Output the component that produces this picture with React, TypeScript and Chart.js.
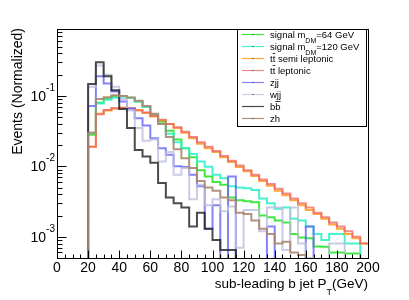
import React, { useEffect, useRef } from 'react';
import { Chart, registerables } from 'chart.js';

Chart.register(...registerables);

const FONT = '"Liberation Sans", Arial, Helvetica, sans-serif';

// Bin low edges (GeV), 5 GeV bins, last bin ends at 200
const binStarts = [20, 25, 30, 35, 40, 45, 50, 55, 60, 65, 70, 75, 80, 85, 90, 95, 100, 105, 110, 115, 120, 125, 130, 135, 140, 145, 150, 155, 160, 165, 170, 175, 180, 185, 190, 195];
const xEnd = 200;

const sig64 = [0.028, 0.080, 0.092, 0.099, 0.100, 0.094, 0.083, 0.070, 0.055, 0.043, 0.032, 0.024, 0.018, 0.0135, 0.0088, 0.0072, 0.0060, 0.0055, 0.0036, 0.0033, 0.0032, 0.0031, 0.0020, 0.0019, 0.0017, 0.0016, 0.0011, 0.00098, 0.00095, 0.00073, 0.00072, 0.0006, 0.0006, 0.00058, 0.00058, 0];
const sig120 = [0.030, 0.078, 0.088, 0.094, 0.097, 0.093, 0.083, 0.070, 0.053, 0.040, 0.029, 0.022, 0.018, 0.015, 0.0117, 0.0099, 0.0076, 0.0068, 0.0052, 0.0050, 0.0049, 0.0046, 0.0035, 0.0030, 0.0025, 0.0026, 0.0018, 0.0017, 0.0014, 0.0011, 0.0009, 0.0011, 0.0011, 0.0008, 0.0008, 0];
const ttSemi = [0.019, 0.056, 0.062, 0.066, 0.068, 0.067, 0.063, 0.057, 0.051, 0.045, 0.040, 0.035, 0.030, 0.025, 0.021, 0.018, 0.016, 0.0135, 0.0115, 0.0098, 0.0085, 0.0073, 0.0062, 0.0053, 0.0045, 0.0039, 0.0033, 0.0028, 0.0024, 0.0021, 0.0018, 0.0015, 0.0013, 0.0011, 0.00095, 0.0008];
const ttLep = [0.019, 0.055, 0.063, 0.067, 0.068, 0.066, 0.062, 0.058, 0.052, 0.046, 0.040, 0.036, 0.031, 0.026, 0.022, 0.019, 0.0165, 0.014, 0.012, 0.0103, 0.0088, 0.0076, 0.0065, 0.0056, 0.0048, 0.0041, 0.0035, 0.0030, 0.0026, 0.0022, 0.0019, 0.0016, 0.0014, 0.0012, 0.0010, 0.0008];
const zjj = [0.072, 0.19, 0.15, 0.115, 0.083, 0.066, 0.048, 0.038, 0.025, 0.018, 0.0146, 0.010, 0.0098, 0.0076, 0.0052, 0.0013, 0.0028, 0, 0.0072, 0, 0, 0, 0, 0.0014, 0, 0, 0, 0, 0.0014, 0, 0, 0, 0, 0, 0, 0];
const wjj = [0.135, 0.27, 0.20, 0.135, 0.09, 0.062, 0.035, 0.023, 0.024, 0.0117, 0.016, 0.0076, 0.0095, 0.0034, 0.0055, 0.0028, 0.0034, 0.0023, 0.0027, 0.0007, 0.0024, 0.0024, 0.0012, 0.0026, 0.0026, 0.00065, 0.0026, 0.0008, 0.0005, 0, 0, 0.0008, 0.0008, 0, 0, 0];
const bb = [0.147, 0.30, 0.19, 0.12, 0.065, 0.035, 0.017, 0.0138, 0.0112, 0.0058, 0.0036, 0.0030, 0.0026, 0.0014, 0.0022, 0.0013, 0.0009, 0.00065, 0.00065, 0, 0, 0, 0, 0, 0, 0, 0, 0, 0, 0, 0, 0, 0, 0, 0, 0];
const zh = [0.030, 0.090, 0.096, 0.102, 0.100, 0.095, 0.085, 0.072, 0.056, 0.040, 0.026, 0.0175, 0.013, 0.0095, 0.0062, 0.0050, 0.0045, 0.0036, 0.0033, 0.0022, 0.0021, 0.0017, 0.0013, 0.0011, 0.0008, 0.00085, 0.0006, 0.00055, 0, 0, 0, 0, 0, 0, 0, 0];

const seriesValues = [sig64, sig120, ttSemi, ttLep, zjj, wjj, bb, zh];
const seriesColors = [
  'rgba(45,228,45,0.9)',
  'rgba(50,242,200,0.9)',
  'rgba(255,160,40,0.9)',
  'rgba(236,100,100,0.75)',
  'rgba(100,100,245,0.8)',
  'rgba(190,190,220,0.8)',
  'rgba(30,30,30,0.8)',
  'rgba(170,135,115,0.9)',
];
type Part = { t: string; sub?: boolean; bar?: boolean };
const legendLabels: Part[][] = [
  [{ t: 'signal m' }, { t: 'DM', sub: true }, { t: '=64 GeV' }],
  [{ t: 'signal m' }, { t: 'DM', sub: true }, { t: '=120 GeV' }],
  [{ t: 't' }, { t: 't', bar: true }, { t: ' semi leptonic' }],
  [{ t: 't' }, { t: 't', bar: true }, { t: ' leptonic' }],
  [{ t: 'zjj' }],
  [{ t: 'wjj' }],
  [{ t: 'b' }, { t: 'b', bar: true }],
  [{ t: 'zh' }],
];

const xMin = 0;
const xMax = 200;
const yMin = 5e-4;
const yMax = 0.89;
// empty bins are drawn below the frame so the outline drops to the axis (clipped)
const emptyFloor = 1e-6;
const xLabelValues = [0, 20, 40, 60, 80, 100, 120, 140, 160, 180, 200];
const yLabelDecades = [-3, -2, -1];
const xTitle: Part[] = [{ t: 'sub-leading b jet P' }, { t: 'T', sub: true }, { t: '(GeV)' }];
const yTitle = 'Events (Normalized)';

function toPoints(vals: number[]) {
  const pts: { x: number; y: number }[] = [{ x: xMin, y: emptyFloor }];
  binStarts.forEach((b, i) => pts.push({ x: b, y: vals[i] > 0 ? vals[i] : emptyFloor }));
  const last = vals[vals.length - 1];
  pts.push({ x: xEnd, y: last > 0 ? last : emptyFloor });
  return pts;
}

const rootPlugin = {
  id: 'rootStyle',
  afterDatasetsDraw(chart: any) {
    const { ctx, chartArea: a } = chart;
    const xs = chart.scales.x;
    const ys = chart.scales.y;
    ctx.save();
    ctx.fillStyle = '#000';
    ctx.strokeStyle = '#000';
    ctx.lineWidth = 1;
    const L = Math.round(a.left) + 0.5;
    const R = Math.round(a.right) + 0.5;
    const T = Math.round(a.top) + 0.5;
    const B = Math.round(a.bottom) + 0.5;
    ctx.strokeRect(L, T, R - L, B - T);

    // x ticks (inside)
    ctx.beginPath();
    for (let v = xMin; v <= xMax; v += 5) {
      const px = Math.round(xs.getPixelForValue(v)) + 0.5;
      const len = v % 20 === 0 ? 8 : 4;
      ctx.moveTo(px, B);
      ctx.lineTo(px, B - len);
    }
    // y ticks (log, inside)
    for (let d = -4; d <= 0; d++) {
      for (let k = 1; k <= 9; k++) {
        const v = k * Math.pow(10, d);
        if (v < yMin || v > yMax) continue;
        const py = Math.round(ys.getPixelForValue(v)) + 0.5;
        const len = k === 1 ? 9 : 5;
        ctx.moveTo(L, py);
        ctx.lineTo(L + len, py);
      }
    }
    ctx.stroke();

    // x labels
    ctx.font = `14px ${FONT}`;
    ctx.textAlign = 'center';
    ctx.textBaseline = 'alphabetic';
    xLabelValues.forEach((v) => {
      ctx.fillText(String(v), xs.getPixelForValue(v), a.bottom + 14);
    });

    // y labels 10^d
    yLabelDecades.forEach((d) => {
      const py = ys.getPixelForValue(Math.pow(10, d));
      const sup = String(d);
      ctx.font = `10px ${FONT}`;
      ctx.textAlign = 'right';
      ctx.fillText(sup, a.left - 2, py - 5);
      const sw = ctx.measureText(sup).width;
      ctx.font = `14px ${FONT}`;
      ctx.fillText('10', a.left - 2 - sw, py + 5);
    });

    // x title (right aligned)
    const mainF = `13.5px ${FONT}`;
    const subF = `9px ${FONT}`;
    let total = 0;
    xTitle.forEach((p) => {
      ctx.font = p.sub ? subF : mainF;
      total += ctx.measureText(p.t).width;
    });
    let cx = a.right - total;
    ctx.textAlign = 'left';
    xTitle.forEach((p) => {
      ctx.font = p.sub ? subF : mainF;
      ctx.fillText(p.t, cx, p.sub ? 295 : 287.5);
      cx += ctx.measureText(p.t).width;
    });

    // y title
    ctx.save();
    ctx.translate(18, a.top - 1);
    ctx.rotate(-Math.PI / 2);
    ctx.font = `14px ${FONT}`;
    ctx.textAlign = 'right';
    ctx.textBaseline = 'middle';
    ctx.fillText(yTitle, 0, 0);
    ctx.restore();

    // legend
    const lx0 = 237.5, ly0 = a.top + 0.5, lx1 = 366.5, ly1 = 126.5;
    ctx.fillStyle = '#fff';
    ctx.fillRect(lx0, ly0, lx1 - lx0, ly1 - ly0);
    ctx.strokeStyle = '#000';
    ctx.strokeRect(lx0, ly0, lx1 - lx0, ly1 - ly0);
    const size = 9.5;
    legendLabels.forEach((parts, i) => {
      const yMid = 34.5 + 12 * i;
      ctx.strokeStyle = seriesColors[i];
      ctx.lineWidth = 1.2;
      ctx.beginPath();
      ctx.moveTo(242, yMid);
      ctx.lineTo(264, yMid);
      ctx.stroke();
      ctx.fillStyle = '#222';
      ctx.fillRect(252.5, yMid - 0.5, 1, 1);
      let tx = 270;
      ctx.fillStyle = '#000';
      ctx.textAlign = 'left';
      ctx.textBaseline = 'alphabetic';
      parts.forEach((p) => {
        if (p.sub) {
          ctx.font = `7px ${FONT}`;
          ctx.fillText(p.t, tx, yMid + 8.5);
          tx += ctx.measureText(p.t).width;
        } else {
          ctx.font = `${size}px ${FONT}`;
          ctx.fillText(p.t, tx, yMid + 3.5);
          const w = ctx.measureText(p.t).width;
          if (p.bar) {
            ctx.strokeStyle = '#000';
            ctx.lineWidth = 0.8;
            ctx.beginPath();
            ctx.moveTo(tx, yMid - 5);
            ctx.lineTo(tx + w, yMid - 5);
            ctx.stroke();
          }
          tx += w;
        }
      });
    });
    ctx.restore();
  },
};

export default function App() {
  const ref = useRef<HTMLCanvasElement | null>(null);
  useEffect(() => {
    document.body.style.margin = '0';
    const canvas = ref.current;
    if (!canvas) return;
    const datasets = seriesValues.map((vals, i) => ({
      label: String(i),
      data: toPoints(vals),
      borderColor: seriesColors[i],
      borderWidth: 2,
      pointRadius: 0,
      fill: false,
      stepped: true as const,
      tension: 0,
      order: seriesValues.length - i,
    }));
    const chart = new Chart(canvas, {
      type: 'line',
      data: { datasets },
      options: {
        animation: false,
        responsive: false,
        devicePixelRatio: 1,
        events: [],
        layout: { padding: { left: 57, right: 41, top: 29, bottom: 42 } },
        plugins: { legend: { display: false }, tooltip: { enabled: false } },
        scales: {
          x: { type: 'linear', min: xMin, max: xMax, display: false },
          y: { type: 'logarithmic', min: yMin, max: yMax, display: false, bounds: 'data' },
        },
      },
      plugins: [rootPlugin],
    } as any);
    return () => chart.destroy();
  }, []);
  return (
    <div style={{ position: 'absolute', left: 0, top: 0, width: 409, height: 300, background: '#fff' }}>
      <canvas ref={ref} width={409} height={300} style={{ width: 409, height: 300, display: 'block' }} />
    </div>
  );
}
